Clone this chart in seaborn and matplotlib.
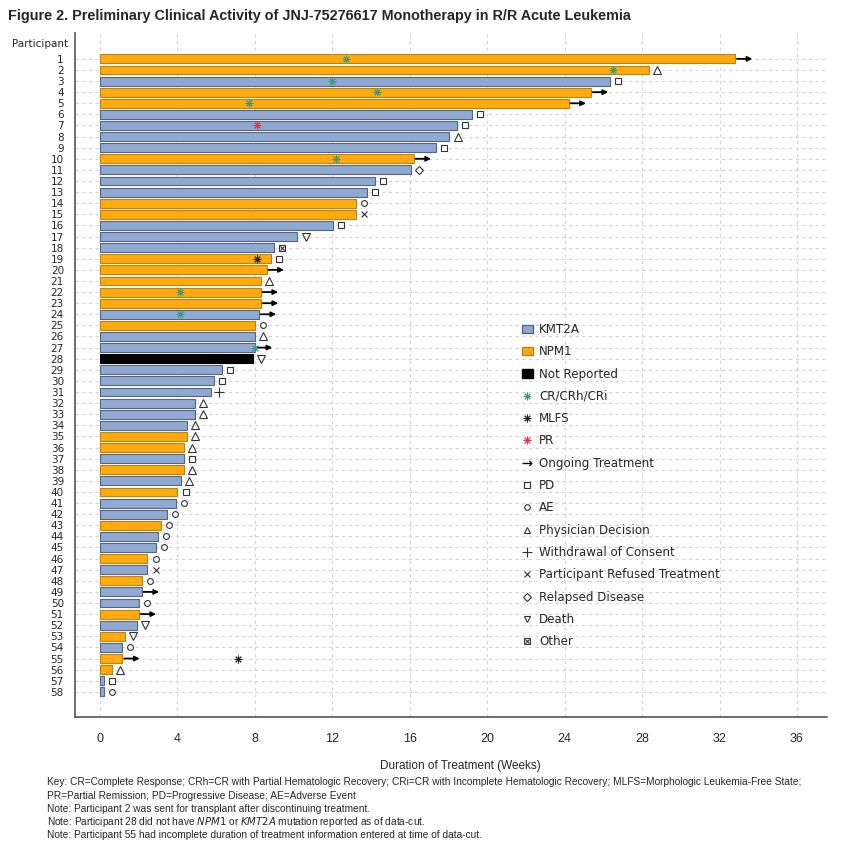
import numpy as np
import pandas as pd
import matplotlib
matplotlib.use("Agg")
import matplotlib.pyplot as plt
import seaborn as sns
from matplotlib.lines import Line2D
from matplotlib.patches import Patch
from matplotlib.legend_handler import HandlerTuple

# ---------------- data ----------------
participants = list(range(1, 59))
durations = [32.8, 28.35, 26.35, 25.35, 24.2, 19.2, 18.45, 18.05, 17.35, 16.2,
             16.05, 14.2, 13.8, 13.2, 13.2, 12.05, 10.2, 9.0, 8.85, 8.6,
             8.3, 8.3, 8.3, 8.2, 8.0, 8.0, 8.0, 7.9, 6.3, 5.9,
             5.75, 4.9, 4.9, 4.5, 4.5, 4.35, 4.35, 4.35, 4.2, 4.0,
             3.9, 3.45, 3.15, 3.0, 2.9, 2.45, 2.45, 2.15, 2.15, 2.0,
             2.0, 1.9, 1.3, 1.15, 1.15, 0.6, 0.2, 0.2]
mutation = ["NPM1", "NPM1", "KMT2A", "NPM1", "NPM1", "KMT2A", "KMT2A", "KMT2A", "KMT2A", "NPM1",
            "KMT2A", "KMT2A", "KMT2A", "NPM1", "NPM1", "KMT2A", "KMT2A", "KMT2A", "NPM1", "NPM1",
            "NPM1", "NPM1", "NPM1", "KMT2A", "NPM1", "KMT2A", "KMT2A", "Not Reported", "KMT2A", "KMT2A",
            "KMT2A", "KMT2A", "KMT2A", "KMT2A", "NPM1", "NPM1", "KMT2A", "NPM1", "KMT2A", "NPM1",
            "KMT2A", "KMT2A", "NPM1", "KMT2A", "KMT2A", "NPM1", "KMT2A", "NPM1", "KMT2A", "KMT2A",
            "NPM1", "KMT2A", "NPM1", "KMT2A", "NPM1", "NPM1", "KMT2A", "KMT2A"]
end_reason = ["Ongoing", "Physician", "PD", "Ongoing", "Ongoing", "PD", "PD", "Physician", "PD", "Ongoing",
              "Relapsed", "PD", "PD", "AE", "Refused", "PD", "Death", "Other", "PD", "Ongoing",
              "Physician", "Ongoing", "Ongoing", "Ongoing", "AE", "Physician", "Ongoing", "Death", "PD", "PD",
              "Withdrawal", "Physician", "Physician", "Physician", "Physician", "Physician", "PD", "Physician", "Physician", "PD",
              "AE", "AE", "AE", "AE", "AE", "AE", "Refused", "AE", "Ongoing", "AE",
              "Ongoing", "Death", "Death", "AE", "Ongoing", "Physician", "PD", "AE"]
response_participant = [1, 2, 3, 4, 5, 7, 10, 19, 22, 24, 27, 55]
response_week = [12.7, 26.5, 12.0, 14.3, 7.7, 8.1, 12.2, 8.1, 4.15, 4.15, 8.0, 7.15]
response_type = ["CR/CRh/CRi", "CR/CRh/CRi", "CR/CRh/CRi", "CR/CRh/CRi", "CR/CRh/CRi", "PR",
                 "CR/CRh/CRi", "MLFS", "CR/CRh/CRi", "CR/CRh/CRi", "CR/CRh/CRi", "MLFS"]
x_ticks = [0, 4, 8, 12, 16, 20, 24, 28, 32, 36]

# ---------------- style ----------------
sns.set_theme(style="white")
plt.rcParams["font.family"] = ["DejaVu Sans"]
narrow = ["Liberation Sans Narrow", "Liberation Sans", "DejaVu Sans"]

bar_colors = {"KMT2A": "#8fa9d2", "NPM1": "#ffaa0f", "Not Reported": "#000000"}
edge_colors = {"KMT2A": "#56647e", "NPM1": "#c0820e", "Not Reported": "#000000"}
resp_colors = {"CR/CRh/CRi": "#3a9a78", "MLFS": "#222222", "PR": "#e0364e"}
star = (8, 2, 0)

df = pd.DataFrame({"participant": [str(p) for p in participants],
                   "duration": durations, "mutation": mutation})

fig = plt.figure(figsize=(8.43, 8.43), dpi=100)
ax = fig.add_axes([0.089, 0.149, 0.892, 0.812])

sns.barplot(data=df, x="duration", y="participant", hue="mutation",
            order=[str(p) for p in participants],
            hue_order=["KMT2A", "NPM1", "Not Reported"],
            palette=bar_colors, saturation=1, dodge=False, width=0.8, orient="h",
            legend=False, ax=ax, zorder=3, linewidth=0.8)
# set edge colours per bar
for bar in ax.patches:
    yc = bar.get_y() + bar.get_height() / 2
    idx = int(round(yc))
    if 0 <= idx < len(mutation) and bar.get_width() > 0:
        bar.set_edgecolor(edge_colors[mutation[idx]])
        bar.set_linewidth(0.8)

# end-of-treatment symbols
mk = {"PD": dict(marker="s", ms=4.5), "AE": dict(marker="o", ms=4.2),
      "Physician": dict(marker="^", ms=5.5), "Withdrawal": dict(marker="+", ms=7),
      "Refused": dict(marker="x", ms=4.5), "Relapsed": dict(marker="D", ms=4.2),
      "Death": dict(marker="v", ms=5.5)}
for i, (d, r) in enumerate(zip(durations, end_reason)):
    x = d + 0.42
    if r == "Ongoing":
        ax.annotate("", xy=(d + 0.9, i), xytext=(d + 0.1, i),
                    arrowprops=dict(arrowstyle="-|>", color="black", lw=1.3,
                                    mutation_scale=7, shrinkA=0, shrinkB=0),
                    zorder=5)
    elif r == "Other":
        ax.plot([x], [i], marker="s", ms=5, mfc="white", mec="#333333", mew=0.8, ls="none", zorder=5)
        ax.plot([x], [i], marker="x", ms=3.5, mec="#333333", mew=0.8, ls="none", zorder=6)
    else:
        ax.plot([x], [i], ls="none", mfc="white", mec="#333333", mew=0.8, zorder=5, **mk[r])

# response markers
for p, w, t in zip(response_participant, response_week, response_type):
    ax.plot([w], [p - 1], marker=star, ms=5.5, mec=resp_colors[t], mew=0.7,
            ls="none", zorder=6)

# axes
ax.set_xlim(-1.29, 37.55)
ax.set_ylim(59.3, -2.34)
ax.set_xticks(x_ticks)
ax.set_xticklabels([str(t) for t in x_ticks], family=narrow, fontsize=9)
ax.set_yticks(range(len(participants)))
ax.set_yticklabels([str(p) for p in participants], fontsize=7.5)
ax.tick_params(axis="x", direction="out", length=9, width=1, color="#555555", pad=2)
ax.tick_params(axis="y", direction="out", length=6, width=1, color="#555555", pad=2)
ax.grid(True, axis="both", ls=(0, (3, 3)), color="#d4d4d4", lw=0.8, zorder=0)
ax.set_axisbelow(True)
for s in ["top", "right"]:
    ax.spines[s].set_visible(False)
for s in ["left", "bottom"]:
    ax.spines[s].set_color("#555555")
    ax.spines[s].set_linewidth(1.2)
ax.set_ylabel("")
ax.set_xlabel("Duration of Treatment (Weeks)", family=narrow, fontsize=8.5)
ax.xaxis.set_label_coords(0.513, -0.062)
fig.text(0.0142, 0.948, "Participant", fontsize=7.5, ha="left", va="center")

# legend
handles = [
    Patch(facecolor=bar_colors["KMT2A"], edgecolor=edge_colors["KMT2A"]),
    Patch(facecolor=bar_colors["NPM1"], edgecolor=edge_colors["NPM1"]),
    Patch(facecolor="black", edgecolor="black"),
    Line2D([], [], marker=star, ms=5.5, mec=resp_colors["CR/CRh/CRi"], mew=0.7, ls="none"),
    Line2D([], [], marker=star, ms=5.5, mec=resp_colors["MLFS"], mew=0.7, ls="none"),
    Line2D([], [], marker=star, ms=5.5, mec=resp_colors["PR"], mew=0.7, ls="none"),
    Line2D([], [], marker="$\\rightarrow$", ms=7, color="black", mew=0.1, ls="none"),
    Line2D([], [], marker="s", ms=4, mfc="white", mec="#333333", mew=0.8, ls="none"),
    Line2D([], [], marker="o", ms=4, mfc="white", mec="#333333", mew=0.8, ls="none"),
    Line2D([], [], marker="^", ms=5, mfc="white", mec="#333333", mew=0.8, ls="none"),
    Line2D([], [], marker="+", ms=7, mec="#333333", mew=0.8, ls="none"),
    Line2D([], [], marker="x", ms=4.5, mec="#333333", mew=0.8, ls="none"),
    Line2D([], [], marker="D", ms=4, mfc="white", mec="#333333", mew=0.8, ls="none"),
    Line2D([], [], marker="v", ms=5, mfc="white", mec="#333333", mew=0.8, ls="none"),
    (Line2D([], [], marker="s", ms=5, mfc="white", mec="#333333", mew=0.8, ls="none"),
     Line2D([], [], marker="x", ms=3.5, mec="#333333", mew=0.8, ls="none")),
]
labels = ["KMT2A", "NPM1", "Not Reported", "CR/CRh/CRi", "MLFS", "PR", "Ongoing Treatment",
          "PD", "AE", "Physician Decision", "Withdrawal of Consent",
          "Participant Refused Treatment", "Relapsed Disease", "Death", "Other"]
leg = ax.legend(handles, labels, loc="upper left", bbox_to_anchor=(0.58, 0.592),
                frameon=False, fontsize=8.6, handlelength=0.9, handleheight=0.7,
                handletextpad=0.55, labelspacing=0.78,
                handler_map={tuple: HandlerTuple(ndivide=1, pad=0)})

# title & footnotes
fig.text(0.0095, 0.981, "Figure 2. Preliminary Clinical Activity of JNJ-75276617 Monotherapy in R/R Acute Leukemia",
         family=narrow, fontsize=10.4, fontweight="bold", ha="left", va="center")
notes = [
    "Key: CR=Complete Response; CRh=CR with Partial Hematologic Recovery; CRi=CR with Incomplete Hematologic Recovery; MLFS=Morphologic Leukemia-Free State;",
    "PR=Partial Remission; PD=Progressive Disease; AE=Adverse Event",
    "Note: Participant 2 was sent for transplant after discontinuing treatment.",
    "Note: Participant 28 did not have $\\it{NPM1}$ or $\\it{KMT2A}$ mutation reported as of data-cut.",
    "Note: Participant 55 had incomplete duration of treatment information entered at time of data-cut.",
]
ys = [782, 796, 809, 822, 835]
for t, y in zip(notes, ys):
    fig.text(47 / 843, 1 - y / 843, t, family=narrow, fontsize=7.3, ha="left", va="center")

fig.savefig("out.png", dpi=100)
